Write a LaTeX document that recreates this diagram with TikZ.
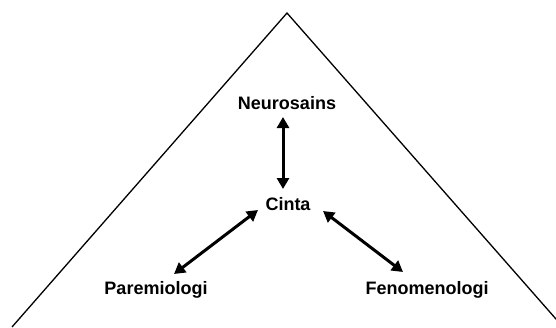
\documentclass[tikz,border=0pt]{standalone}
\usepackage{fontspec}
\setmainfont{Liberation Sans}
\usetikzlibrary{arrows.meta}
\begin{document}
\begin{tikzpicture}[x=1pt,y=-1pt,
  lbl/.style={font=\fontsize{18}{20}\selectfont\bfseries, inner sep=0pt},
  tri/.style={draw=black, line width=1.3pt},
  link/.style={line width=3pt, {Triangle[length=11pt,width=12pt]}-{Triangle[length=11pt,width=12pt]}}]
\useasboundingbox (0,0) rectangle (556,327);
\begin{scope}
\clip (0,0) rectangle (556,327);
\coordinate (apex) at (287,13);
\coordinate (bl) at (12,327);
\coordinate (br) at (563,327);
\draw[tri] (bl) -- (apex) -- (br);
\end{scope}
\node[lbl] (neu) at (287,103) {Neurosains};
\node[lbl] (cin) at (288,204) {Cinta};
\node[lbl] (par) at (156,290) {Paremiologi};
\node[lbl] (fen) at (427,290) {Fenomenologi};
\coordinate (a1) at (283,117);
\coordinate (a2) at (283,189);
\coordinate (b1) at (258,210);
\coordinate (b2) at (174,274);
\coordinate (c1) at (323,211);
\coordinate (c2) at (403,272);
\draw[link] (a1) -- (a2);
\draw[link] (b1) -- (b2);
\draw[link] (c1) -- (c2);
\end{tikzpicture}
\end{document}
